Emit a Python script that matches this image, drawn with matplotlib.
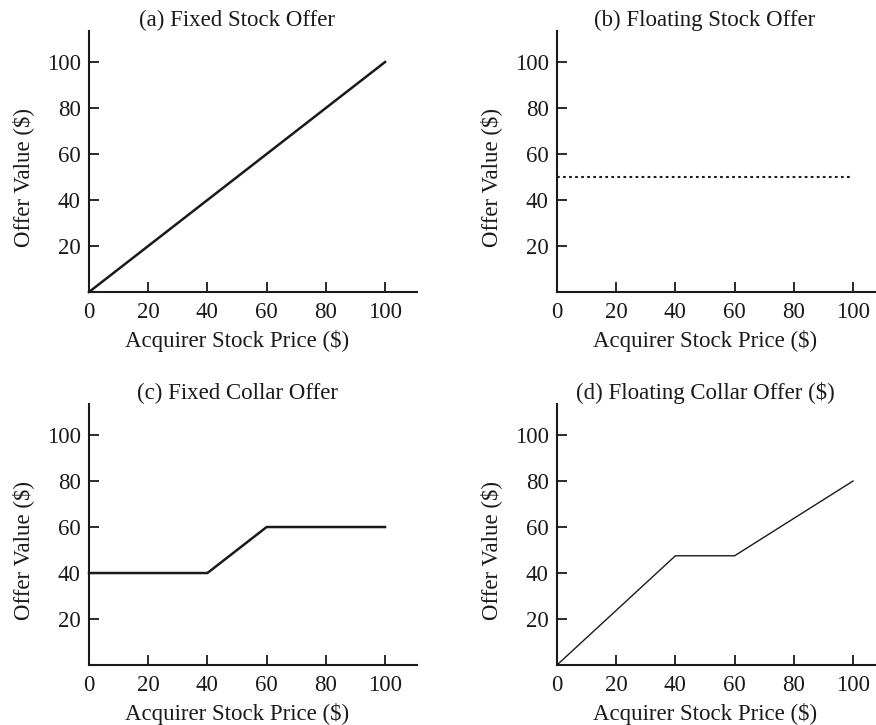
import matplotlib
matplotlib.use("Agg")
import matplotlib.pyplot as plt

plt.rcParams['font.family'] = ['Liberation Serif', 'DejaVu Serif']

# data
titles = ["(a) Fixed Stock Offer", "(b) Floating Stock Offer",
          "(c) Fixed Collar Offer", "(d) Floating Collar Offer ($)"]
x_a = [0, 100]
y_a = [0, 100]
x_b = [0, 100]
y_b = [50, 50]
x_c = [0, 40, 60, 100]
y_c = [40, 40, 60, 60]
x_d = [0, 40, 60, 100]
y_d = [0, 47.5, 47.5, 80]
xticks = [0, 20, 40, 60, 80, 100]
yticks = [20, 40, 60, 80, 100]

fig = plt.figure(figsize=(8.76, 7.25), dpi=100)

W, H = 876, 725
boxes = [(89, 31, 417, 292), (557, 31, 885, 292),
         (89, 404, 417, 665), (557, 404, 885, 665)]
XMAX, YMAX = 110.8, 113.5
FS = 16.5
INK = '#1a1a1a'

axes = []
for (l, t, r, b) in boxes:
    ax = fig.add_axes([l / W, 1 - b / H, (r - l) / W, (b - t) / H])
    ax.set_xlim(0, XMAX)
    ax.set_ylim(0, YMAX)
    for s in ['top', 'right']:
        ax.spines[s].set_visible(False)
    for s in ['left', 'bottom']:
        ax.spines[s].set_linewidth(1.5)
        ax.spines[s].set_color(INK)
    ax.set_xticks(xticks)
    ax.set_yticks(yticks)
    ax.tick_params(direction='in', length=7, width=1.3, labelsize=FS,
                   color=INK, labelcolor=INK)
    ax.tick_params(axis='x', pad=7)
    ax.tick_params(axis='y', pad=6)
    ax.set_xlabel("Acquirer Stock Price ($)", fontsize=FS, color=INK)
    ax.set_ylabel("Offer Value ($)", fontsize=FS, color=INK)
    ax.xaxis.set_label_coords(50 / XMAX, -0.145)
    ax.yaxis.set_label_coords(-0.168, 50 / YMAX)
    axes.append(ax)

for ax, t in zip(axes, titles):
    ax.set_title(t, fontsize=FS, x=50 / XMAX, pad=3, color=INK)

axes[0].plot(x_a, y_a, color=INK, lw=1.8, clip_on=False)
axes[1].plot(x_b, y_b, color=INK, lw=1.5, linestyle=(0, (1.3, 1.6)))
axes[2].plot(x_c, y_c, color=INK, lw=1.8, clip_on=False)
axes[3].plot(x_d, y_d, color=INK, lw=1.0, clip_on=False)

fig.savefig("out.png", dpi=100)
